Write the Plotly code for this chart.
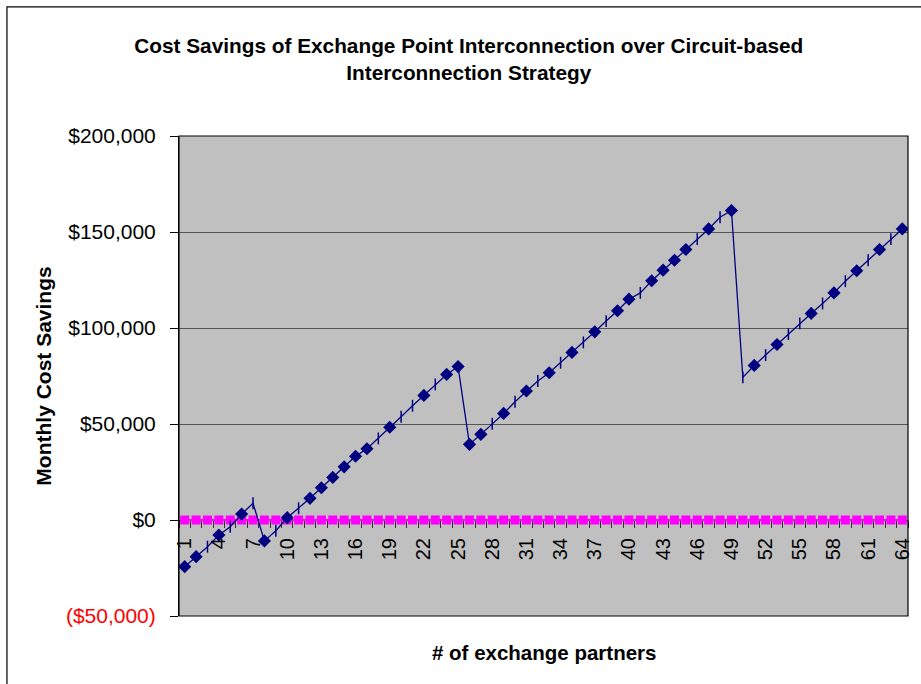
import plotly.graph_objects as go

# ---- data ----
partners = list(range(1, 65))
savings = [
    -24300, -19100, -13900, -7800, -3500, 3100, 8700, -10900, -5600, 1200,
    6100, 11300, 16800, 22200, 27700, 33200, 37100, 42500, 48300, 53800,
    59500, 64900, 70600, 75800, 79900, 39400, 44600, 50100, 55500, 61600,
    67200, 72400, 76700, 81900, 87300, 92500, 98000, 103600, 109000, 115000,
    118300, 124600, 130100, 135300, 140900, 146300, 151600, 157700, 161200, 74300,
    80500, 85900, 91400, 96800, 102400, 107600, 112800, 118300, 124400, 129800,
    135300, 140900, 146300, 151600,
]
baseline = [0] * 64
x_tick_vals = list(range(1, 65, 3))
x_tick_text = [str(v) for v in x_tick_vals]
y_tick_vals = [-50000, 0, 50000, 100000, 150000, 200000]
y_tick_text = ["<span style='color:#FF0000'>($50,000)</span>", "$0", "$50,000",
               "$100,000", "$150,000", "$200,000"]

# points rendered as small vertical dashes in the reference (rendering artefact)
dash_points = {3, 5, 7, 9, 11, 18, 20, 21, 23, 28, 30, 32, 34, 36, 38, 41, 46, 48,
               50, 52, 54, 55, 57, 59, 61, 63}
symbols = ["line-ns" if p in dash_points else "diamond" for p in partners]

FONT = "Liberation Sans, Arial, sans-serif"
NAVY = "#000080"

fig = go.Figure()
fig.add_trace(go.Scatter(
    x=partners, y=baseline, mode="lines+markers",
    line=dict(color="#FF00FF", width=2),
    marker=dict(symbol="square", size=9, color="#FF00FF"),
    showlegend=False, hoverinfo="skip",
))
fig.add_trace(go.Scatter(
    x=partners, y=savings, mode="lines+markers",
    line=dict(color=NAVY, width=1.3),
    marker=dict(symbol=symbols, size=8.5, color=NAVY,
                line=dict(color=NAVY, width=1.5)),
    showlegend=False,
))

# plot-area frame and outer chart frame
fig.add_shape(type="rect", xref="paper", yref="paper", x0=0, x1=1, y0=0, y1=1,
              line=dict(color="#000000", width=1.2), layer="above")
fig.add_shape(type="rect", xref="paper", yref="paper",
              x0=-0.236, x1=1.2, y0=-0.3, y1=1.269,
              line=dict(color="#000000", width=1.2), layer="above")

fig.add_annotation(
    text="<b># of exchange partners</b>", xref="paper", yref="paper",
    x=0.5, y=0, xanchor="center", yanchor="middle", yshift=-36,
    showarrow=False, font=dict(size=20.5, family=FONT, color="#000000"),
)

fig.update_layout(
    width=921, height=684,
    margin=dict(l=179, r=8, t=136, b=68),
    paper_bgcolor="white", plot_bgcolor="#C0C0C0",
    font=dict(family=FONT, color="#000000"),
    title=dict(
        text="Cost Savings of Exchange Point Interconnection over Circuit-based<br>Interconnection Strategy",
        font=dict(family=FONT, size=20.8, color="#000000", weight="bold"),
        x=0.509, xanchor="center", xref="container",
        y=0.922, yanchor="top", yref="container",
    ),
    xaxis=dict(
        range=[0.5, 64.5], tickmode="array", tickvals=x_tick_vals, ticktext=x_tick_text,
        tickangle=-90, tickfont=dict(size=20, family=FONT),
        ticks="", showgrid=False, zeroline=False,
        showline=True, linecolor="#000000", linewidth=1,
        anchor="free", position=0.2, layer="below traces",
        ticklabelstandoff=9,
        minor=dict(tickmode="linear", tick0=0.5, dtick=1, ticks="outside",
                   ticklen=7, tickcolor="#303030", tickwidth=1, showgrid=False),
    ),
    yaxis=dict(
        range=[-50000, 200000], tickmode="array", tickvals=y_tick_vals, ticktext=y_tick_text,
        tickfont=dict(size=21, family=FONT),
        ticks="outside", ticklen=8, tickcolor="#000000",
        ticklabelstandoff=10,
        showgrid=True, gridcolor="#555555", gridwidth=1.4,
        zeroline=False, showline=True, linecolor="#000000", linewidth=1,
        title=dict(text="Monthly Cost Savings", font=dict(size=21, family=FONT, weight="bold"),
                   standoff=8),
    ),
)

fig.write_html("out.html", config={"displayModeBar": False},
               post_script="document.body.style.margin='0';")
